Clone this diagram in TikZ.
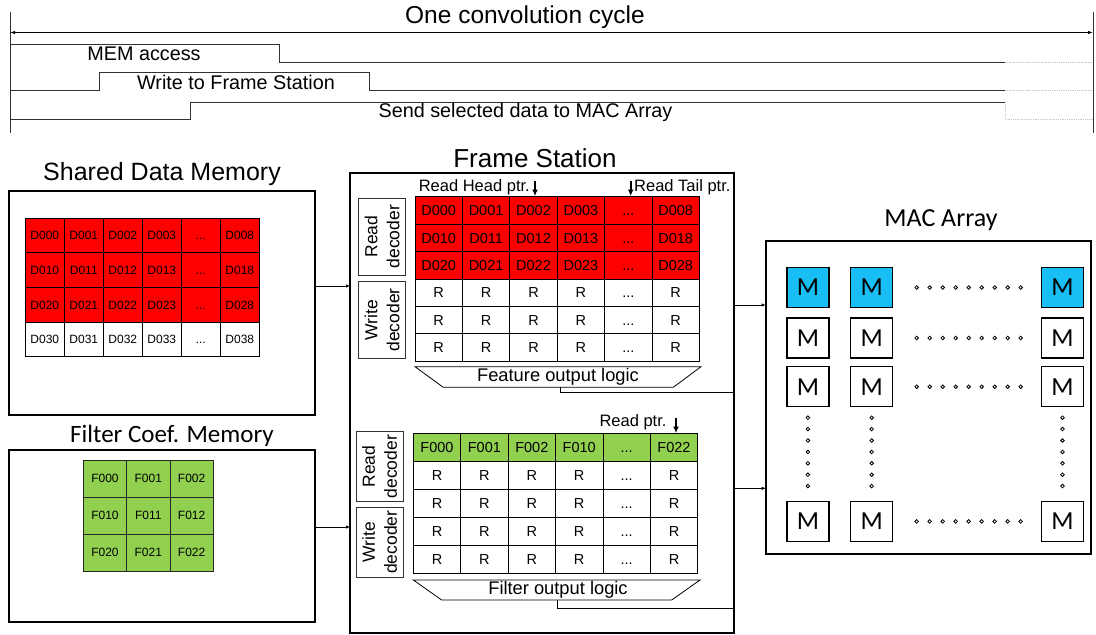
\documentclass[tikz,border=0pt]{standalone}
\usepackage{fontspec}
\setmainfont{Liberation Sans}
\newfontfamily\carl{Carlito}
\usetikzlibrary{arrows.meta}
\definecolor{memred}{RGB}{255,0,0}
\definecolor{fgreen}{RGB}{146,208,80}
\definecolor{mblue}{RGB}{25,190,245}
\definecolor{sigc}{RGB}{50,50,50}
\newcommand{\fsz}[1]{\fontsize{#1}{#1}\selectfont}
\def\dd{...}
\begin{document}
\begin{tikzpicture}[x=1pt,y=-1pt,
  bigbox/.style={draw, line width=2pt, inner sep=0pt, outer sep=0pt, anchor=north west},
  cell/.style={draw, line width=0.8pt, inner sep=0pt, outer sep=0pt, anchor=north west, text depth=0pt},
  smallcell/.style={cell, font=\fsz{12}, text height=8.6pt},
  midcell/.style={cell, font=\fsz{14.5}, text height=10.4pt},
  deco/.style={draw=black!80, line width=0.8pt, rotate=90, inner sep=0pt, align=center, font=\fontsize{17.5}{22}\selectfont},
  mcell/.style={draw, line width=1.3pt, inner sep=0pt, minimum width=42pt, minimum height=40pt, text height=16.6pt, text depth=0pt, font=\carl\fsz{26}},
  sigline/.style={draw=sigc, line width=0.9pt},
  extline/.style={draw=gray!45, densely dotted, line width=0.8pt},
  conn/.style={line width=1pt, -{Latex[length=4pt,width=3.5pt]}},
  ptrarrow/.style={line width=1.7pt, -{Latex[length=6.5pt,width=6pt]}},
  dotc/.style={line width=0.8pt, fill=white},
  lbl/.style={inner sep=0pt}
]
\useasboundingbox (0,0) rectangle (1096,635);

% ---------------- timing diagram ----------------
\draw[sigline] (10,11.7) -- (10,133);
\draw[sigline] (1093,11.7) -- (1093,133);
\coordinate (cl) at (10,32.5);
\coordinate (cr) at (1093,32.5);
\draw[line width=0.9pt, {Latex[length=5pt,width=3.5pt]}-{Latex[length=5pt,width=3.5pt]}] (cl) -- (cr);
\node[lbl, font=\fsz{24.5}] (t-cycle) at (525,17.5) {One convolution cycle};

\draw[sigline] (10,44) -- (279.3,44) -- (279.3,62.7) -- (1005,62.7);
\draw[extline] (1005,62.7) -- (1093,62.7);
\node[lbl, font=\fsz{19.8}] (t-mem) at (144,54) {MEM access};

\draw[sigline] (10,90) -- (99,90) -- (99,72.3) -- (369.3,72.3) -- (369.3,90) -- (1005,90);
\draw[extline] (1005,90) -- (1093,90);
\node[lbl, font=\fsz{19.8}] (t-write) at (236,82.5) {Write to Frame Station};

\draw[sigline] (10,119.3) -- (190,119.3) -- (190,102) -- (1005,102);
\draw[extline] (1005,102) -- (1005,119.3) -- (1093,119.3);
\node[lbl, font=\fsz{19.8}] (t-send) at (525.5,112.5) {Send selected data to MAC Array};

% ---------------- Shared Data Memory ----------------
\node[lbl, font=\fsz{25}] (t-sdm) at (162,174) {Shared Data Memory};
\node[bigbox, minimum width=305.7pt, minimum height=224.3pt] (sdm) at (9.3,190.7) {};
\foreach \r in {0,1,2,3}{
  \ifnum\r<3 \def\fc{memred}\else\def\fc{white}\fi
  \foreach \c/\s in {0/D0\r0,1/D0\r1,2/D0\r2,3/D0\r3,4/\dd,5/D0\r8}{
    \node[smallcell, fill=\fc, minimum width=39pt, minimum height=34.7pt]
      (sd-\r-\c) at ({25.3+39*\c},{218+34.7*\r}) {\s};
  }
}

% ---------------- Filter Coef. Memory ----------------
\node[lbl, font=\carl\fsz{25}] (t-fcm) at (172,436) {Filter Coef. Memory};
\node[bigbox, minimum width=305.7pt, minimum height=171.7pt] (fcm) at (9,450) {};
\foreach \r in {0,1,2}{
  \foreach \c in {0,1,2}{
    \node[smallcell, draw=black!85, fill=fgreen, minimum width=43.33pt, minimum height=37pt]
      (fc-\r-\c) at ({83.3+43.33*\c},{460+37*\r}) {F0\r\c};
  }
}

% ---------------- Frame Station ----------------
\node[lbl, font=\fsz{26}] (t-fs) at (535,158) {Frame Station};
\node[bigbox, minimum width=384.3pt, minimum height=460pt] (fs) at (350,172.7) {};

% upper part
\node[deco, minimum width=76.7pt, minimum height=47.4pt] (rd1) at (382,236.65) {Read\\decoder};
\node[deco, minimum width=76.6pt, minimum height=47.4pt] (wd1) at (382,320) {Write\\decoder};
\foreach \r in {0,1,2,3,4,5}{
  \ifnum\r<3
    \foreach \c/\s in {0/D0\r0,1/D0\r1,2/D0\r2,3/D0\r3,4/\dd,5/D0\r8}{
      \node[midcell, fill=memred, minimum width=47.4pt, minimum height=27.4pt]
        (fu-\r-\c) at ({415+47.4*\c},{196.7+27.4*\r}) {\s};
    }
  \else
    \foreach \c/\s in {0/R,1/R,2/R,3/R,4/\dd,5/R}{
      \node[midcell, fill=white, minimum width=47.4pt, minimum height=27.4pt]
        (fu-\r-\c) at ({415+47.4*\c},{196.7+27.4*\r}) {\s};
    }
  \fi
}
\node[lbl, anchor=east, font=\fsz{16.5}] (t-head) at (530,187) {Read Head ptr.};
\node[lbl, anchor=west, font=\fsz{16.5}] (t-tail) at (634,187) {Read Tail ptr.};
\coordinate (hp1) at (535,180.5);
\coordinate (hp2) at (535,196);
\coordinate (tp1) at (630.7,180.5);
\coordinate (tp2) at (630.7,196);
\draw[ptrarrow] (hp1) -- (hp2);
\draw[ptrarrow] (tp1) -- (tp2);
\draw[line width=0.8pt] (415,366.7) -- (701,366.7) -- (673.3,387.3) -- (443.3,387.3) -- cycle;
\node[lbl, font=\fsz{18.3}] (t-fol) at (558,376.5) {Feature output logic};

% lower part
\node[deco, minimum width=70pt, minimum height=47.3pt] (rd2) at (379.7,466.7) {Read\\decoder};
\node[deco, minimum width=70pt, minimum height=47.3pt] (wd2) at (379.7,542.3) {Write\\decoder};
\foreach \r in {0,1,2,3,4}{
  \ifnum\r=0
    \foreach \c/\s in {0/F000,1/F001,2/F002,3/F010,4/\dd,5/F022}{
      \node[midcell, fill=fgreen, minimum width=47.4pt, minimum height=28pt]
        (fl-\r-\c) at ({413.3+47.4*\c},{433.3+28*\r}) {\s};
    }
  \else
    \foreach \c/\s in {0/R,1/R,2/R,3/R,4/\dd,5/R}{
      \node[midcell, fill=white, minimum width=47.4pt, minimum height=28pt]
        (fl-\r-\c) at ({413.3+47.4*\c},{433.3+28*\r}) {\s};
    }
  \fi
}
\node[lbl, font=\fsz{16.5}] (t-rp) at (633,422) {Read ptr.};
\coordinate (rp1) at (676,417.5);
\coordinate (rp2) at (676,433);
\draw[ptrarrow] (rp1) -- (rp2);
\draw[line width=0.8pt] (413.3,580) -- (700,580) -- (671.7,600) -- (441.7,600) -- cycle;
\node[lbl, font=\fsz{18.3}] (t-fil) at (558,590) {Filter output logic};

% output logic lines
\coordinate (fo1) at (560,387.3);
\coordinate (fo2) at (560,392.3);
\coordinate (fo3) at (fs.east |- fo2);
\draw[line width=0.8pt] (fo1) -- (fo2) -- (fo3);
\coordinate (go1) at (557.7,600);
\coordinate (go2) at (557.7,608.3);
\coordinate (go3) at (fs.east |- go2);
\draw[line width=0.8pt] (go1) -- (go2) -- (go3);

% ---------------- MAC Array ----------------
\node[lbl, font=\carl\fsz{26}] (t-mac) at (941,220) {MAC Array};
\node[bigbox, minimum width=325.3pt, minimum height=313.6pt] (mac) at (765.7,240.7) {};
\foreach \r/\yy in {0/287.5,1/338,2/386.7,3/521.4}{
  \ifnum\r=0 \def\fc{mblue}\else\def\fc{white}\fi
  \foreach \c/\xx in {0/807.9,1/871.7,2/1062.5}{
    \node[mcell, fill=\fc] (m-\r-\c) at (\xx,\yy) {M};
  }
  \foreach \i in {0,...,8}{
    \draw[dotc] ({916.7+13*\i},\yy) circle (1.8pt);
  }
}
\foreach \xx in {807.9,871.7,1062.5}{
  \foreach \i in {0,...,6}{
    \draw[dotc] (\xx,{417.7+11.4*\i}) circle (1.8pt);
  }
}

% ---------------- connectors ----------------
\coordinate (ya) at (0,286);
\coordinate (yb) at (0,527);
\coordinate (yc) at (0,305);
\coordinate (yd) at (0,488.3);
\draw[conn] (sdm.east |- ya) -- (fs.west |- ya);
\draw[conn] (fcm.east |- yb) -- (fs.west |- yb);
\draw[conn] (fs.east |- yc) -- (mac.west |- yc);
\draw[conn] (fs.east |- yd) -- (mac.west |- yd);
\end{tikzpicture}
\end{document}
